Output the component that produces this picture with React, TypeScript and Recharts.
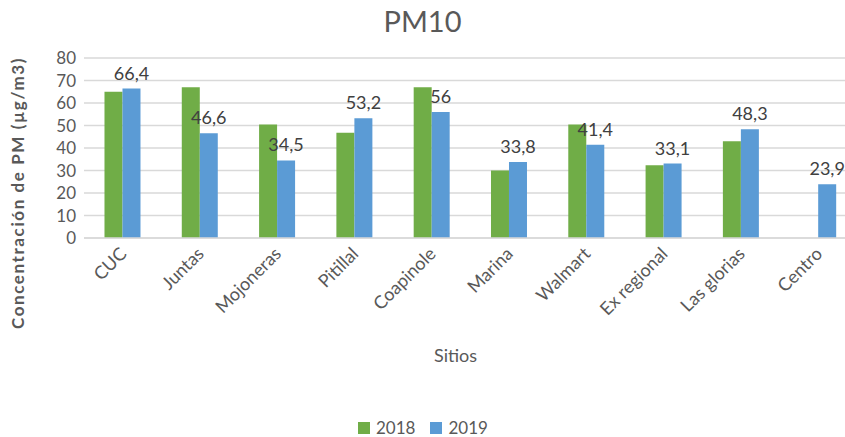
import React from 'react';
import { BarChart, Bar, XAxis, YAxis, CartesianGrid, Legend, LabelList } from 'recharts';

const sitios = ['CUC', 'Juntas', 'Mojoneras', 'Pitillal', 'Coapinole', 'Marina', 'Walmart', 'Ex regional', 'Las glorias', 'Centro'];
const valores2018: (number | null)[] = [65, 67, 50.5, 46.8, 67, 30, 50.5, 32.3, 43, null];
const valores2019: number[] = [66.4, 46.6, 34.5, 53.2, 56, 33.8, 41.4, 33.1, 48.3, 23.9];
const yTicks = [0, 10, 20, 30, 40, 50, 60, 70, 80];
const titulo = 'PM10';
const ejeY = 'Concentración de PM (µg/m3)';
const ejeX = 'Sitios';
const serie1 = '2018';
const serie2 = '2019';

const data = sitios.map((s, i) => ({ sitio: s, v2018: valores2018[i], v2019: valores2019[i] }));

const FONT = 'Lato, "Liberation Sans", sans-serif';
const GREEN = '#70AD47';
const BLUE = '#5B9BD5';
const TXT = '#595959';

const fmt = (v: any) => (v == null ? '' : String(v).replace('.', ','));

const renderLegend = () => (
  <div style={{ display: 'flex', alignItems: 'center', paddingLeft: 358, fontFamily: FONT, fontSize: 17, lineHeight: '20px', color: TXT, height: 20 }}>
    <span style={{ display: 'inline-block', width: 12, height: 12, background: GREEN, marginRight: 6 }} />
    <span style={{ marginRight: 15 }}>{serie1}</span>
    <span style={{ display: 'inline-block', width: 12, height: 12, background: BLUE, marginRight: 6 }} />
    <span>{serie2}</span>
  </div>
);

export default function App() {
  return (
    <div style={{ position: 'fixed', top: 0, left: 0, width: 845, height: 437, overflow: 'hidden', background: '#fff' }}>
      <BarChart
        width={868}
        height={437}
        data={data}
        margin={{ top: 58, right: 11, bottom: 0, left: 0 }}
        barCategoryGap="26.5%"
        barGap={0}
      >
        <text x={422.5} y={32} textAnchor="middle" fontFamily={FONT} fontSize={29} fill={TXT}>
          {titulo}
        </text>
        <text
          x={20}
          y={193}
          transform="rotate(-90 20 193)"
          textAnchor="middle"
          dominantBaseline="middle"
          fontFamily={FONT}
          fontSize={17}
          fontWeight="bold"
          letterSpacing={1.6}
          fill={TXT}
        >
          {ejeY}
        </text>
        <text x={455.5} y={357} textAnchor="middle" dominantBaseline="middle" fontFamily={FONT} fontSize={18} fill={TXT}>
          {ejeX}
        </text>
        <CartesianGrid vertical={false} stroke="#d9d9d9" strokeWidth={1.5} />
        <XAxis
          dataKey="sitio"
          interval={0}
          height={179}
          axisLine={{ stroke: '#d9d9d9', strokeWidth: 1.5 }}
          tickLine={false}
          tick={{ fill: TXT, fontSize: 18, fontFamily: FONT, angle: -45, textAnchor: 'end', dx: -4 }}
        />
        <YAxis
          width={84}
          domain={[0, 80]}
          ticks={yTicks}
          interval={0}
          axisLine={false}
          tickLine={false}
          tick={{ fill: TXT, fontSize: 17, fontFamily: FONT }}
        />
        <Legend verticalAlign="bottom" content={renderLegend} wrapperStyle={{ top: 418, left: 0, height: 20 }} />
        <Bar dataKey="v2018" name={serie1} fill={GREEN} isAnimationActive={false} />
        <Bar dataKey="v2019" name={serie2} fill={BLUE} isAnimationActive={false}>
          <LabelList dataKey="v2019" position="top" offset={9} formatter={fmt} fill="#404040" fontSize={18} fontFamily={FONT} />
        </Bar>
      </BarChart>
    </div>
  );
}
